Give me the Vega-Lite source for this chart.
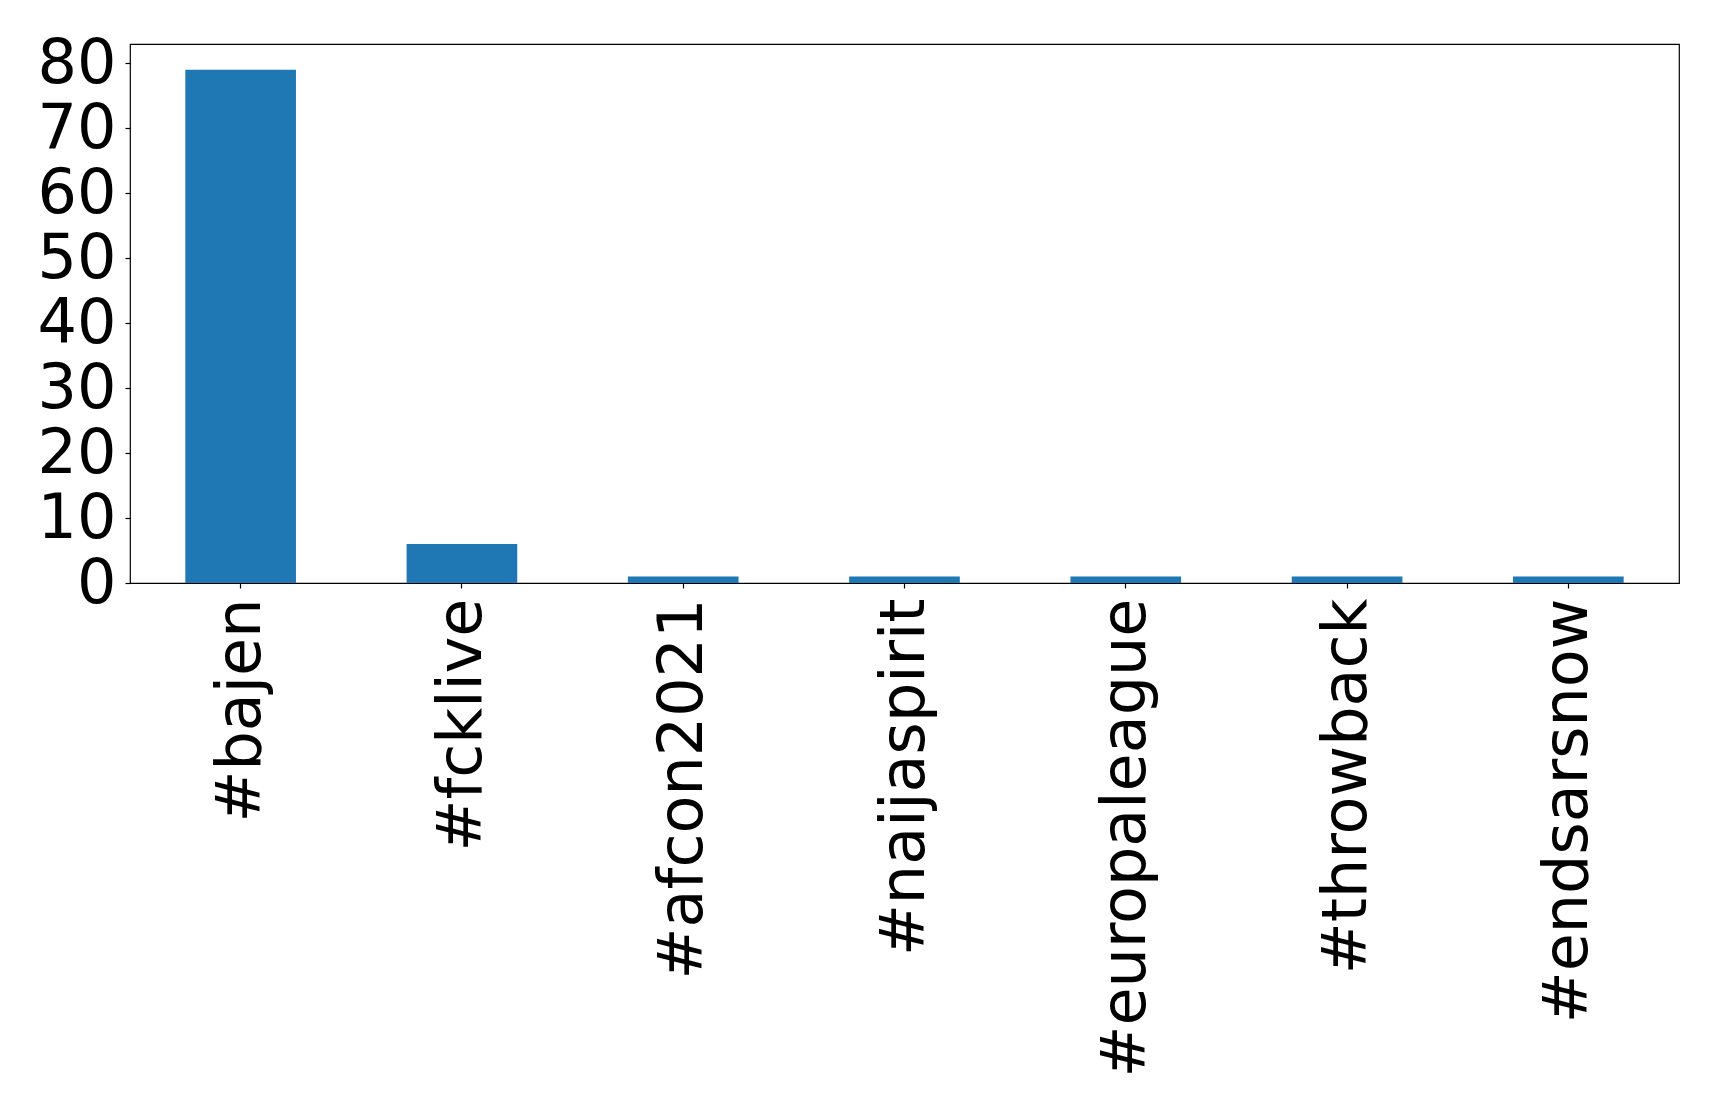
{
  "$schema": "https://vega.github.io/schema/vega-lite/v6.json",
  "autosize": {"type": "none"},
  "padding": {"left": 130, "top": 44, "right": 40, "bottom": 532},
  "width": 1549,
  "height": 539,
  "background": "white",
  "config": {
    "view": {"stroke": "black", "strokeWidth": 1.2},
    "font": "DejaVu Sans",
    "axis": {
      "labelFont": "DejaVu Sans",
      "labelColor": "black",
      "tickColor": "black",
      "domain": false,
      "grid": false,
      "labelFontSize": 62,
      "tickSize": 5,
      "tickWidth": 1.2,
      "title": null
    }
  },
  "data": {
    "values": [
      {"hashtag": "#bajen", "count": 79},
      {"hashtag": "#fcklive", "count": 6},
      {"hashtag": "#afcon2021", "count": 1},
      {"hashtag": "#naijaspirit", "count": 1},
      {"hashtag": "#europaleague", "count": 1},
      {"hashtag": "#throwback", "count": 1},
      {"hashtag": "#endsarsnow", "count": 1}
    ]
  },
  "mark": {"type": "bar", "color": "#1f77b4"},
  "encoding": {
    "x": {
      "field": "hashtag",
      "type": "nominal",
      "sort": null,
      "scale": {"paddingInner": 0.5, "paddingOuter": 0.25},
      "axis": {
        "labelAngle": -90,
        "labelAlign": "right",
        "labelBaseline": "middle",
        "labelPadding": 10,
        "labelOverlap": false,
        "labelLimit": 1000
      }
    },
    "y": {
      "field": "count",
      "type": "quantitative",
      "scale": {"domain": [0, 82.95], "nice": false, "zero": true},
      "axis": {
        "values": [0, 10, 20, 30, 40, 50, 60, 70, 80],
        "labelPadding": 9,
        "labelBaseline": "middle",
        "labelOverlap": false
      }
    }
  }
}
